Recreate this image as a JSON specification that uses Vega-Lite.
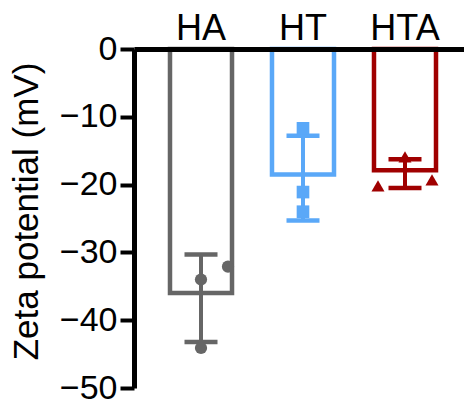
{
  "$schema": "https://vega.github.io/schema/vega-lite/v6.json",
  "width": 330,
  "height": 339,
  "autosize": "none",
  "padding": {"left": 134, "top": 49, "right": 0, "bottom": 21},
  "background": "white",
  "config": {"view": {"stroke": null}, "font": "Liberation Sans"},
  "datasets": {
    "summary": [
      {"group": "HA", "mean": -36.0, "lo": -43.2, "hi": -30.3},
      {"group": "HT", "mean": -18.5, "lo": -25.3, "hi": -12.8},
      {"group": "HTA", "mean": -17.9, "lo": -20.5, "hi": -16.25}
    ],
    "points": [
      {"group": "HA", "value": -34.0, "jitter": 0},
      {"group": "HA", "value": -32.1, "jitter": 1},
      {"group": "HA", "value": -44.1, "jitter": 0},
      {"group": "HT", "value": -11.7, "jitter": 0},
      {"group": "HT", "value": -21.1, "jitter": 0},
      {"group": "HT", "value": -24.0, "jitter": 0},
      {"group": "HTA", "value": -20.2, "jitter": -1},
      {"group": "HTA", "value": -15.9, "jitter": 0},
      {"group": "HTA", "value": -19.3, "jitter": 1}
    ]
  },
  "resolve": {"scale": {"xOffset": "independent"}},
  "encoding": {
    "x": {
      "field": "group",
      "type": "nominal",
      "sort": ["HA", "HT", "HTA"],
      "scale": {"paddingInner": 0.392, "paddingOuter": 0.3137, "align": 0.5625, "round": false},
      "axis": {
        "orient": "top",
        "title": null,
        "labelAngle": 0,
        "ticks": false,
        "domainWidth": 5,
        "domainColor": "black",
        "labelFontSize": 36,
        "labelColor": "black",
        "labelPadding": 10,
        "labelBaseline": "alphabetic",
        "labelDx": 4,
        "zindex": 1
      }
    }
  },
  "layer": [
    {
      "data": {"name": "summary"},
      "mark": {"type": "bar", "fill": "transparent", "strokeWidth": 4.5, "width": {"band": 1}},
      "encoding": {
        "y": {
          "field": "mean",
          "type": "quantitative",
          "title": "Zeta potential (mV)",
          "scale": {"domain": [-50, 0], "nice": false, "zero": false},
          "axis": {
            "values": [0, -10, -20, -30, -40, -50],
            "grid": false,
            "domainWidth": 5,
            "domainColor": "black",
            "tickSize": 14,
            "tickWidth": 4,
            "tickColor": "black",
            "labelFontSize": 34,
            "labelColor": "black",
            "labelPadding": 3,
            "titleFontSize": 35,
            "titleFontWeight": "normal",
            "titleColor": "black",
            "titleAngle": -90,
            "titleBaseline": "alphabetic",
            "titleAlign": "center",
            "titleX": -97,
            "titleY": 162,
            "zindex": 1
          }
        },
        "stroke": {
          "field": "group",
          "type": "nominal",
          "scale": {"domain": ["HA", "HT", "HTA"], "range": ["#666666", "#5aa8f8", "#a00000"]},
          "legend": null
        }
      }
    },
    {
      "data": {"name": "summary"},
      "mark": {"type": "rule", "strokeWidth": 4},
      "encoding": {
        "y": {"field": "lo", "type": "quantitative", "title": "Zeta potential (mV)"},
        "y2": {"field": "hi"},
        "color": {
          "field": "group",
          "type": "nominal",
          "scale": {"domain": ["HA", "HT", "HTA"], "range": ["#666666", "#5aa8f8", "#a00000"]},
          "legend": null
        }
      }
    },
    {
      "data": {"name": "summary"},
      "mark": {"type": "tick", "size": 33, "thickness": 4.5, "opacity": 1},
      "encoding": {
        "y": {"field": "lo", "type": "quantitative", "title": "Zeta potential (mV)"},
        "color": {"field": "group", "type": "nominal", "legend": null}
      }
    },
    {
      "data": {"name": "summary"},
      "mark": {"type": "tick", "size": 33, "thickness": 4.5, "opacity": 1},
      "encoding": {
        "y": {"field": "hi", "type": "quantitative", "title": "Zeta potential (mV)"},
        "color": {"field": "group", "type": "nominal", "legend": null}
      }
    },
    {
      "data": {"name": "points"},
      "mark": {"type": "point", "filled": true, "opacity": 1},
      "encoding": {
        "y": {"field": "value", "type": "quantitative", "title": "Zeta potential (mV)"},
        "xOffset": {"field": "jitter", "type": "quantitative", "scale": {"domain": [-1, 1], "range": [4, 58]}},
        "color": {"field": "group", "type": "nominal", "legend": null},
        "shape": {
          "field": "group",
          "type": "nominal",
          "scale": {"domain": ["HA", "HT", "HTA"], "range": ["circle", "square", "triangle-up"]},
          "legend": null
        },
        "size": {
          "field": "group",
          "type": "nominal",
          "scale": {"domain": ["HA", "HT", "HTA"], "range": [150, 170, 230]},
          "legend": null
        }
      }
    }
  ]
}
